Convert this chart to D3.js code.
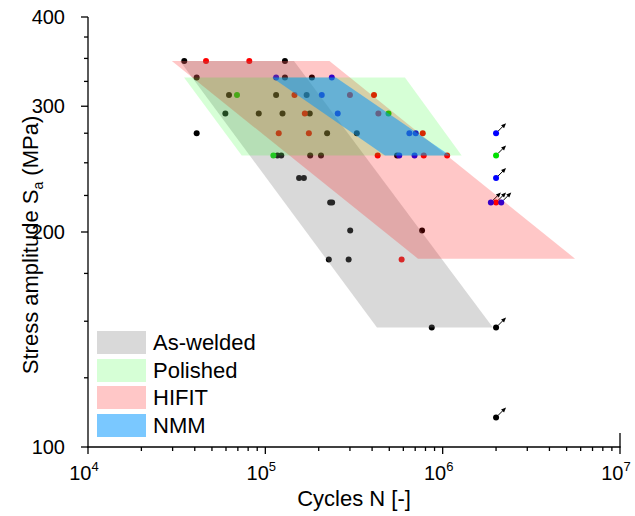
<!DOCTYPE html>
<html><head><meta charset="utf-8">
<script src="https://cdn.jsdelivr.net/npm/d3@7"></script>
<style>body{margin:0;background:#fff}svg{display:block}text{font-family:"Liberation Sans",Arial,sans-serif;fill:#000}</style>
</head><body><svg id="c" width="635" height="516"></svg>
<script>
// ---- data ----
const seriesNames = ["As-welded", "Polished", "HIFIT", "NMM"];
const seriesColors = ["#000000", "#00e000", "#ff0000", "#0000ff"];
const bandColors = ["rgb(128,128,128)", "rgb(0,255,0)", "rgb(255,0,0)", "rgb(0,150,255)"];
const bandOpacity = [0.3, 0.16, 0.22, 0.52];

// As-welded (failures)
const asWeldedN = [3.49e4,1.29e5,4.10e4,1.29e5,1.83e5,6.24e4,1.15e5,1.71e5,5.95e4,9.18e4,1.25e5,1.78e5,4.10e4,2.23e5,3.28e5,1.17e5,1.23e5,1.79e5,2.06e5,5.53e5,1.55e5,1.65e5,2.32e5,2.38e5,3.01e5,7.65e5,2.28e5,2.95e5,8.68e5];
const asWeldedS = [347,347,329,329,329,311,311,311,293,293,293,293,275,275,275,256,256,256,256,256,238,238,220,220,201,201,183,183,147];
const asWeldedRunN = [2.0e6, 2.0e6];
const asWeldedRunS = [147, 110];

const polishedN = [6.92e4, 1.11e5, 4.95e5];
const polishedS = [311, 256, 293];
const polishedRunN = [2.0e6];
const polishedRunS = [256];

const hifitN = [4.63e4,8.12e4,1.46e5,3.00e5,4.10e5,1.67e5,4.34e5,1.19e5,1.76e5,7.72e5,4.30e5,7.82e5,1.06e6,5.87e5];
const hifitS = [347,347,311,311,311,293,293,275,275,275,256,256,256,183];
const hifitRunN = [2.0e6];
const hifitRunS = [220];

const nmmN = [1.15e5,2.37e5,2.08e5,2.56e5,6.49e5,7.05e5,5.69e5,6.94e5];
const nmmS = [329,329,311,293,275,275,256,256];
const nmmRunN = [2.0e6, 2.0e6, 1.87e6, 2.14e6];
const nmmRunS = [275, 238, 220, 220];

// scatter bands (parallelogram corners: N, S)
const bandAsWeldedN = [3.30e4, 1.45e5, 1.92e6, 4.26e5];
const bandAsWeldedS = [347, 347, 147, 147];
const bandPolishedN = [3.48e4, 6.13e5, 1.28e6, 7.36e4];
const bandPolishedS = [329, 329, 256, 256];
const bandHifitN = [2.97e4, 2.30e5, 5.58e6, 7.26e5];
const bandHifitS = [347, 347, 183.5, 183.5];
const bandNmmN = [1.09e5, 2.50e5, 1.10e6, 4.73e5];
const bandNmmS = [329, 329, 256, 256];

const xMajor = [1e4, 1e5, 1e6, 1e7];
const xExp = ["4", "5", "6", "7"];
const yMajor = [100, 200, 300, 400];
const yMinor = [125,150,175,225,250,275,325,350,375];

// ---- chart ----
const svg = d3.select("#c");
const x = d3.scaleLog().domain([1e4, 1e7]).range([88, 620]);
const y = d3.scaleLog().domain([100, 400]).range([447, 17]);

const zip = (a, b) => a.map((v, i) => [v, b[i]]);
const failures = [zip(asWeldedN, asWeldedS), zip(polishedN, polishedS), zip(hifitN, hifitS), zip(nmmN, nmmS)];
const runouts = [zip(asWeldedRunN, asWeldedRunS), zip(polishedRunN, polishedRunS), zip(hifitRunN, hifitRunS), zip(nmmRunN, nmmRunS)];
const bands = [zip(bandAsWeldedN, bandAsWeldedS), zip(bandPolishedN, bandPolishedS), zip(bandHifitN, bandHifitS), zip(bandNmmN, bandNmmS)];

// points (drawn under translucent bands)
const gPts = svg.append("g");
failures.forEach((pts, i) => {
  gPts.selectAll(null).data(pts).enter().append("circle")
    .attr("cx", d => x(d[0])).attr("cy", d => y(d[1])).attr("r", 3)
    .attr("fill", seriesColors[i]);
});
runouts.forEach((pts, i) => {
  pts.forEach(d => {
    const cx = x(d[0]), cy = y(d[1]);
    gPts.append("line").attr("x1", cx + 2).attr("y1", cy - 2).attr("x2", cx + 7).attr("y2", cy - 7)
      .attr("stroke", "#000").attr("stroke-width", 1);
    gPts.append("path").attr("d", `M${cx+10},${cy-10} L${cx+5},${cy-8} L${cx+8},${cy-5} Z`).attr("fill", "#000");
    gPts.append("circle").attr("cx", cx).attr("cy", cy).attr("r", 3).attr("fill", seriesColors[i]);
  });
});

// bands: gray, pink, green, blue order
const bandOrder = [0, 2, 1, 3];
const line = d3.line().x(d => x(d[0])).y(d => y(d[1]));
bandOrder.forEach(i => {
  svg.append("path").attr("d", line(bands[i]) + "Z")
    .attr("fill", bandColors[i]).attr("fill-opacity", bandOpacity[i]).attr("stroke", "none");
});

// axes
const ax = svg.append("g").attr("stroke", "#000").attr("stroke-width", 1.3);
ax.append("line").attr("x1", 88).attr("x2", 88).attr("y1", y(400)).attr("y2", y(100) + 0.6);
ax.append("line").attr("x1", 87.4).attr("x2", 620.6).attr("y1", y(100)).attr("y2", y(100));
yMajor.forEach(v => ax.append("line").attr("x1", 81).attr("x2", 88).attr("y1", y(v)).attr("y2", y(v)));
yMinor.forEach(v => ax.append("line").attr("x1", 84).attr("x2", 88).attr("y1", y(v)).attr("y2", y(v)));
xMajor.forEach(v => ax.append("line").attr("x1", x(v)).attr("x2", x(v)).attr("y1", 447).attr("y2", 454));
ax.append("line").attr("x1", x(1e7)).attr("x2", x(1e7)).attr("y1", 447).attr("y2", 433);
[1e4, 1e5, 1e6].forEach(dec => {
  for (let k = 2; k <= 9; k++) {
    ax.append("line").attr("x1", x(dec * k)).attr("x2", x(dec * k)).attr("y1", 447).attr("y2", 451);
  }
});

svg.selectAll(null).data(yMajor).enter().append("text")
  .attr("x", 65).attr("y", d => y(d) + 7).attr("text-anchor", "end")
  .attr("font-size", 20).text(d => d);

xMajor.forEach((v, i) => {
  const t = svg.append("text").attr("x", x(v) - 4).attr("y", 480).attr("text-anchor", "middle").attr("font-size", 20);
  t.append("tspan").text("10");
  t.append("tspan").attr("font-size", 13).attr("dy", -9).text(xExp[i]);
});

svg.append("text").attr("x", 354).attr("y", 506).attr("text-anchor", "middle")
  .attr("font-size", 22).text("Cycles N [-]");

const yl = svg.append("text").attr("transform", "translate(38,245) rotate(-90)")
  .attr("text-anchor", "middle").attr("font-size", 22);
yl.append("tspan").text("Stress amplitude S");
yl.append("tspan").attr("font-size", 14).attr("dy", 5).text("a");
yl.append("tspan").attr("dy", -5).text(" (MPa)");

// legend
const legY = [331, 359, 386, 414];
seriesNames.forEach((name, i) => {
  svg.append("rect").attr("x", 97).attr("y", legY[i]).attr("width", 49).attr("height", 23)
    .attr("fill", bandColors[i]).attr("fill-opacity", bandOpacity[i]);
  svg.append("text").attr("x", 153).attr("y", legY[i] + 19).attr("font-size", 22).text(name);
});
</script></body></html>
